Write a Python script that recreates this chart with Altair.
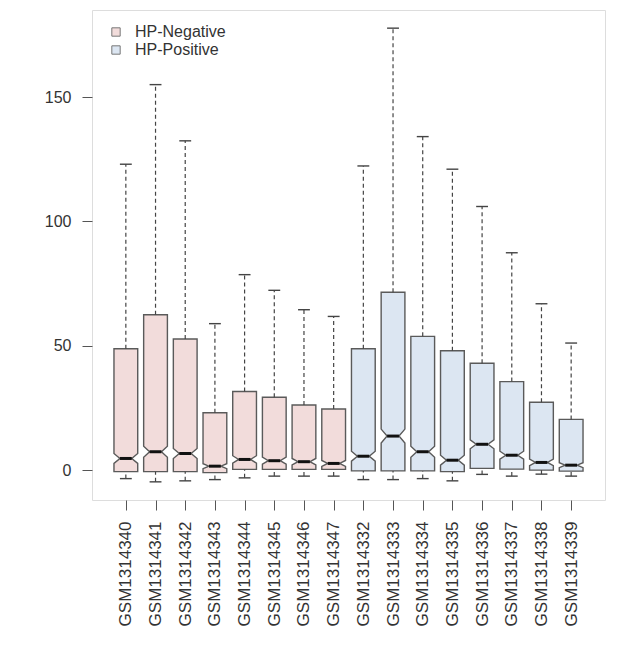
import altair as alt
import pandas as pd

samples = ["GSM1314340", "GSM1314341", "GSM1314342", "GSM1314343", "GSM1314344",
           "GSM1314345", "GSM1314346", "GSM1314347", "GSM1314332", "GSM1314333",
           "GSM1314334", "GSM1314335", "GSM1314336", "GSM1314337", "GSM1314338",
           "GSM1314339"]
groups = ["HP-Negative"] * 8 + ["HP-Positive"] * 8
whisker_hi = [123, 155, 132.4, 58.9, 78.6, 72.3, 64.5, 61.8, 122.3, 177.7, 134.1, 121, 106, 87.4, 66.9, 51.1]
q3 = [48.8, 62.5, 52.7, 23.1, 31.6, 29.3, 26.2, 24.6, 48.8, 71.5, 53.8, 48, 43, 35.6, 27.3, 20.4]
median = [4.7, 7.4, 6.7, 1.6, 4.3, 3.8, 3.4, 2.7, 5.6, 13.7, 7.4, 4.0, 10.4, 6.0, 3.1, 2.0]
q1 = [-0.6, -0.6, -0.6, -1.0, 0.3, 0.3, 0.3, 0.3, -0.3, -0.3, -0.3, -0.6, 0.7, 0.4, 0.0, -0.4]
whisker_lo = [-3.4, -4.7, -4.3, -3.8, -3.1, -2.4, -2.4, -2.4, -3.8, -3.8, -3.4, -4.3, -1.7, -2.4, -1.6, -2.4]
notch = [2.0, 2.2, 2.0, 1.0, 1.5, 1.4, 1.3, 1.2, 2.0, 2.8, 2.2, 2.0, 1.8, 1.6, 1.3, 1.0]

BOXWID = 0.4
STAPLE = 0.2

poly_rows = []
stat_rows = []
for i, s in enumerate(samples):
    c = i + 1
    pts = [(q1[i], BOXWID), (median[i] - notch[i], BOXWID), (median[i], BOXWID / 2),
           (median[i] + notch[i], BOXWID), (q3[i], BOXWID)]
    for k, (yv, hw) in enumerate(pts):
        poly_rows.append({"sample": s, "group": groups[i], "k": k, "y": yv,
                          "xl": c - hw, "xr": c + hw})
    stat_rows.append({"sample": s, "group": groups[i], "c": c,
                      "lo": whisker_lo[i], "q1": q1[i], "med": median[i],
                      "q3": q3[i], "hi": whisker_hi[i],
                      "ml": c - BOXWID / 2, "mr": c + BOXWID / 2,
                      "sl": c - STAPLE, "sr": c + STAPLE})
poly = pd.DataFrame(poly_rows)
stats = pd.DataFrame(stat_rows)

label_expr = "[" + ",".join("'%s'" % s for s in samples) + "][datum.value - 1]"

FONT = "Liberation Sans"
xscale = alt.Scale(domain=[-0.14, 17.14], nice=False, zero=False)
yscale = alt.Scale(domain=[-12, 185], nice=False, zero=False)

xaxis = alt.Axis(values=list(range(1, 17)), labelExpr=label_expr, labelAngle=-90,
                 title=None, grid=False, domain=False, tickSize=10, tickColor="#555",
                 labelFontSize=17, labelColor="#333", labelFont=FONT, labelPadding=11,
                 labelOverlap=False, labelBound=False, labelFlush=False)
yaxis = alt.Axis(values=[0, 50, 100, 150], title=None, grid=False, domain=False,
                 tickSize=10, tickColor="#555", labelFontSize=16, labelColor="#333",
                 labelFont=FONT, labelPadding=11)


def X(field):
    return alt.X(field, type="quantitative", scale=xscale, axis=xaxis, stack=None)


def Y(field):
    return alt.Y(field, type="quantitative", scale=yscale, axis=yaxis)


boxes = alt.Chart(poly).mark_area(orient="horizontal", stroke="#5a5a5a",
                                  strokeWidth=1.4, opacity=1).encode(
    y=Y("y"),
    x=X("xl"),
    x2="xr:Q",
    detail="sample:N",
    color=alt.Color("group:N",
                    scale=alt.Scale(domain=["HP-Negative", "HP-Positive"],
                                    range=["#f2dcdb", "#dce6f2"]),
                    legend=alt.Legend(title=None, orient="none", legendX=16, legendY=14,
                                      symbolType="square", symbolSize=70,
                                      symbolStrokeColor="#777", symbolStrokeWidth=1,
                                      labelFontSize=16, labelFont=FONT, labelColor="#333",
                                      labelOffset=11, rowPadding=2)),
)

base = alt.Chart(stats)
upper = base.mark_rule(color="#444", strokeWidth=1.2, strokeDash=[4, 3]).encode(
    x=X("c"), y=Y("q3"), y2="hi:Q")
lower = base.mark_rule(color="#444", strokeWidth=1.2, strokeDash=[4, 3]).encode(
    x=X("c"), y=Y("lo"), y2="q1:Q")
cap_hi = base.mark_rule(color="#444", strokeWidth=1.4).encode(
    x=X("sl"), x2="sr:Q", y=Y("hi"))
cap_lo = base.mark_rule(color="#444", strokeWidth=1.4).encode(
    x=X("sl"), x2="sr:Q", y=Y("lo"))
med = base.mark_rule(color="#111", strokeWidth=3).encode(
    x=X("ml"), x2="mr:Q", y=Y("med"))

chart = alt.layer(boxes, upper, lower, cap_hi, cap_lo, med).properties(
    width=513, height=490,
    autosize=alt.AutoSizeParams(type="none"),
    padding={"left": 84, "top": 2, "right": 8, "bottom": 140},
).configure_view(stroke="#555", strokeWidth=1.2).configure(background="white")

chart.save("out.html", embed_options={"renderer": "svg", "actions": False})
